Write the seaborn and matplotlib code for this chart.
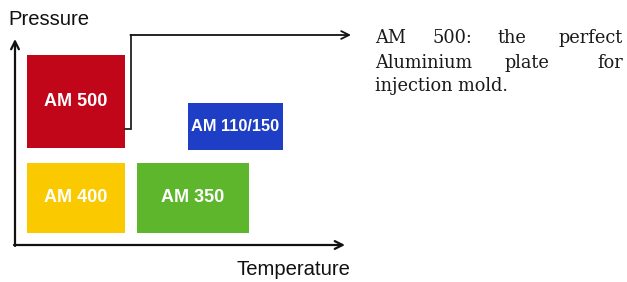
import matplotlib
matplotlib.use("Agg")
import matplotlib.pyplot as plt
import seaborn as sns

# -----------------------------
# Data (temperature / pressure ranges in chart units)
# -----------------------------
grades = ["AM 500", "AM 400", "AM 350", "AM 110/150"]
temp_lo = [27, 27, 137, 188]
temp_hi = [125, 125, 249, 283]
press_lo = [134, 49, 49, 132]
press_hi = [227, 119, 119, 179]
grade_colors = ["#C1061A", "#FBC900", "#5DB62C", "#1E3EC6"]

note_lines = [
    ["AM", "500:", "the", "perfect"],
    ["Aluminium", "plate", "for"],
    ["injection mold."],
]
note_word_x = [
    [375, 433, 498, 623],
    [375, 505, 623],
    [375],
]
note_baseline = [239, 214, 191]

sns.set_style("white")
sans = ["Liberation Sans", "DejaVu Sans"]

fig = plt.figure(figsize=(6.27, 2.82), dpi=100)
ax = fig.add_axes([0, 0, 1, 1])
ax.set_xlim(0, 627)
ax.set_ylim(0, 282)
ax.axis("off")

# grade boxes
widths = [hi - lo for lo, hi in zip(temp_lo, temp_hi)]
heights = [hi - lo for lo, hi in zip(press_lo, press_hi)]
ax.bar(temp_lo, heights, width=widths, bottom=press_lo, align="edge",
       color=grade_colors, edgecolor="none")
for g, x0, w, y0, h in zip(grades, temp_lo, widths, press_lo, heights):
    fs = 13 if len(g) < 8 else 11.8
    ax.text(x0 + w / 2, y0 + h / 2, g, color="white", fontsize=fs,
            fontweight="bold", family=sans, ha="center", va="center")

# axes arrows
arrow = dict(arrowstyle="->", lw=1.6, color="#111111", mutation_scale=14,
             shrinkA=0, shrinkB=0)
ax.annotate("", xy=(345, 37), xytext=(14, 37), arrowprops=arrow)
ax.annotate("", xy=(15, 243), xytext=(15, 36), arrowprops=arrow)
ax.text(8, 257, "Pressure", fontsize=14.6, family=sans, color="#111111",
        ha="left", va="baseline")
ax.text(350, 7, "Temperature", fontsize=14.6, family=sans, color="#111111",
        ha="right", va="baseline")

# connector from AM 500 to the note
ax.plot([125, 131, 131], [153, 153, 247], color="#222222", lw=1.3,
        solid_joinstyle="miter")
conn = dict(arrow, lw=1.3)
ax.annotate("", xy=(351, 247), xytext=(130.4, 247), arrowprops=conn)

# justified note text
for words, xs, yb in zip(note_lines, note_word_x, note_baseline):
    for i, (w, x) in enumerate(zip(words, xs)):
        ha = "right" if (i == len(words) - 1 and len(words) > 1) else "left"
        ax.text(x, yb, w, fontsize=12.8, family=["DejaVu Serif"],
                color="#1a1a1a", ha=ha, va="baseline")

fig.savefig("out.png", dpi=100)
plt.close(fig)
